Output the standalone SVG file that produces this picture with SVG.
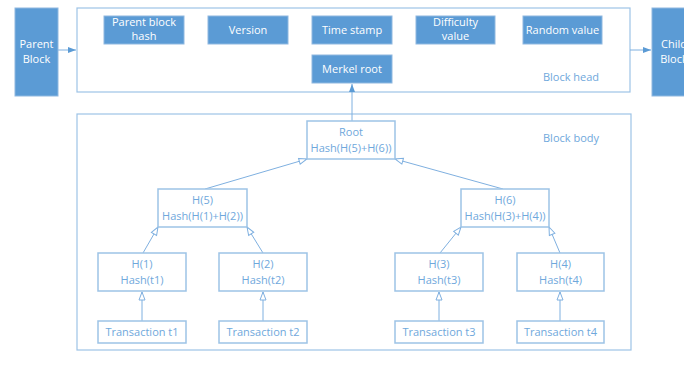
<svg xmlns="http://www.w3.org/2000/svg" width="684" height="374" viewBox="0 0 684 374">
<style>
.fill{fill:#5b9bd5;stroke:#8fb8e0;stroke-width:1}
.ft{fill:#ffffff;font-family:"Open Sans","Liberation Sans",sans-serif;font-size:11px;text-anchor:middle}
.frame{fill:none;stroke:#9dc3e6;stroke-width:1.2}
.box{fill:#ffffff;stroke:#9dc3e6;stroke-width:1.5}
.bt{fill:#6fa8dc;font-family:"Open Sans","Liberation Sans",sans-serif;font-size:11px;text-anchor:middle}
.lbl{fill:#6fa8dc;font-family:"Open Sans","Liberation Sans",sans-serif;font-size:11px;text-anchor:middle}
.con{fill:none;stroke:#7fb0e0;stroke-width:1}
</style>
<defs>
<marker id="hollow" markerWidth="10" markerHeight="10" refX="9" refY="4" orient="auto" markerUnits="userSpaceOnUse">
<path d="M1,1 L9,4 L1,7 Z" fill="#ffffff" stroke="#7fb0e0" stroke-width="1"/>
</marker>
<marker id="solid" markerWidth="10" markerHeight="10" refX="8" refY="4" orient="auto" markerUnits="userSpaceOnUse">
<path d="M0,1 L8,4 L0,7 Z" fill="#5b9bd5"/>
</marker>
</defs>
<rect width="684" height="374" fill="#ffffff"/>
<g id="frames">
<rect class="frame" x="77" y="8" width="553" height="84"/>
<rect class="frame" x="77" y="114" width="554" height="236"/>
<text class="lbl" x="571" y="81">Block head</text>
<text class="lbl" x="571" y="142">Block body</text>
</g>
<g id="connectors">
<line class="con" x1="58" y1="50" x2="76" y2="50" marker-end="url(#solid)" stroke="#5b9bd5"/>
<line class="con" x1="630" y1="50" x2="651" y2="50" marker-end="url(#solid)" stroke="#5b9bd5"/>
<line class="con" x1="352" y1="121" x2="352" y2="84" marker-end="url(#solid)" stroke="#5b9bd5"/>
<line class="con" x1="205" y1="189" x2="307" y2="159" marker-end="url(#hollow)"/>
<line class="con" x1="503" y1="189" x2="395" y2="159" marker-end="url(#hollow)"/>
<line class="con" x1="143" y1="253" x2="158" y2="227" marker-end="url(#hollow)"/>
<line class="con" x1="263" y1="253" x2="247" y2="227" marker-end="url(#hollow)"/>
<line class="con" x1="440" y1="253" x2="461" y2="227" marker-end="url(#hollow)"/>
<line class="con" x1="560" y1="253" x2="549" y2="227" marker-end="url(#hollow)"/>
<line class="con" x1="142" y1="321" x2="142" y2="292" marker-end="url(#hollow)"/>
<line class="con" x1="263" y1="321" x2="263" y2="292" marker-end="url(#hollow)"/>
<line class="con" x1="439" y1="321" x2="439" y2="292" marker-end="url(#hollow)"/>
<line class="con" x1="560" y1="321" x2="560" y2="292" marker-end="url(#hollow)"/>
</g>
<g id="parent-block">
<rect class="fill" x="15" y="8" width="43" height="88"/>
<text class="ft" x="36.5" y="48">Parent</text>
<text class="ft" x="36.5" y="63">Block</text>
</g>
<g id="child-block">
<rect class="fill" x="652" y="8" width="40" height="88"/>
<text class="ft" x="674" y="48">Child</text>
<text class="ft" x="674" y="63">Block</text>
</g>
<g id="parent-hash">
<rect class="fill" x="104" y="16" width="80" height="28"/>
<text class="ft" x="144" y="26">Parent block</text>
<text class="ft" x="144" y="40">hash</text>
</g>
<g id="version">
<rect class="fill" x="208" y="16" width="80" height="28"/>
<text class="ft" x="248" y="34">Version</text>
</g>
<g id="time-stamp">
<rect class="fill" x="312" y="16" width="80" height="28"/>
<text class="ft" x="352" y="34">Time stamp</text>
</g>
<g id="difficulty">
<rect class="fill" x="416" y="16" width="79" height="28"/>
<text class="ft" x="455.5" y="26">Difficulty</text>
<text class="ft" x="455.5" y="40">value</text>
</g>
<g id="random">
<rect class="fill" x="523" y="16" width="79" height="28"/>
<text class="ft" x="562.5" y="34">Random value</text>
</g>
<g id="merkel-root">
<rect class="fill" x="312" y="55" width="80" height="28"/>
<text class="ft" x="352" y="73">Merkel root</text>
</g>
<g id="root">
<rect class="box" x="307" y="121" width="88" height="38"/>
<text class="bt" x="351" y="136">Root</text>
<text class="bt" x="351" y="152">Hash(H(5)+H(6))</text>
</g>
<g id="h5">
<rect class="box" x="158" y="189" width="89" height="38"/>
<text class="bt" x="202.5" y="204">H(5)</text>
<text class="bt" x="202.5" y="220">Hash(H(1)+H(2))</text>
</g>
<g id="h6">
<rect class="box" x="461" y="189" width="88" height="38"/>
<text class="bt" x="505" y="204">H(6)</text>
<text class="bt" x="505" y="220">Hash(H(3)+H(4))</text>
</g>
<g id="h1">
<rect class="box" x="98" y="253" width="88" height="38"/>
<text class="bt" x="142" y="268">H(1)</text>
<text class="bt" x="142" y="284">Hash(t1)</text>
</g>
<g id="h2">
<rect class="box" x="219" y="253" width="88" height="38"/>
<text class="bt" x="263" y="268">H(2)</text>
<text class="bt" x="263" y="284">Hash(t2)</text>
</g>
<g id="h3">
<rect class="box" x="395" y="253" width="88" height="38"/>
<text class="bt" x="439" y="268">H(3)</text>
<text class="bt" x="439" y="284">Hash(t3)</text>
</g>
<g id="h4">
<rect class="box" x="517" y="253" width="87" height="38"/>
<text class="bt" x="560.5" y="268">H(4)</text>
<text class="bt" x="560.5" y="284">Hash(t4)</text>
</g>
<g id="t1">
<rect class="box" x="98" y="321" width="88" height="22"/>
<text class="bt" x="142" y="336">Transaction t1</text>
</g>
<g id="t2">
<rect class="box" x="219" y="321" width="88" height="22"/>
<text class="bt" x="263" y="336">Transaction t2</text>
</g>
<g id="t3">
<rect class="box" x="395" y="321" width="88" height="22"/>
<text class="bt" x="439" y="336">Transaction t3</text>
</g>
<g id="t4">
<rect class="box" x="517" y="321" width="87" height="22"/>
<text class="bt" x="560.5" y="336">Transaction t4</text>
</g>
</svg>
